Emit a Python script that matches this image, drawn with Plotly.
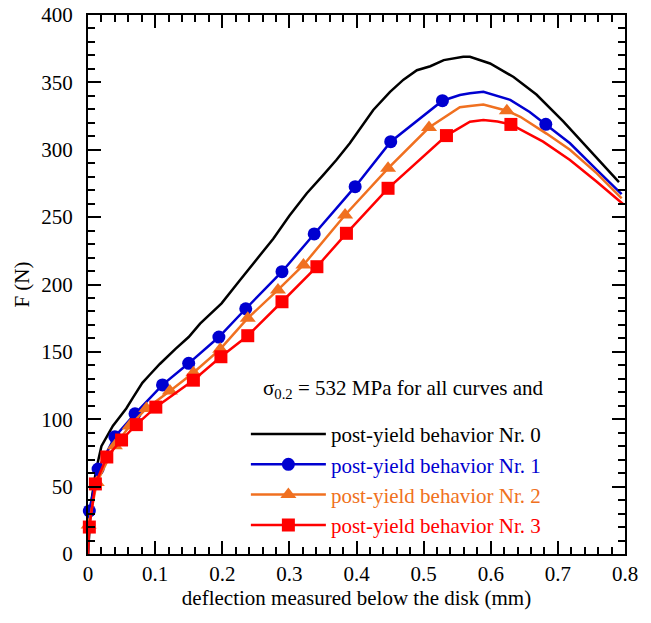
import plotly.graph_objects as go

# ---- post-yield behavior Nr. 0 (plain line) ----
defl_0 = [0, 0.0045, 0.012, 0.02, 0.037, 0.057, 0.067, 0.081, 0.092, 0.107, 0.13, 0.15,
          0.167, 0.199, 0.226, 0.237, 0.268, 0.276, 0.30, 0.326, 0.35, 0.37, 0.39, 0.425,
          0.45, 0.47, 0.49, 0.51, 0.53, 0.559, 0.569, 0.599, 0.634, 0.668, 0.708, 0.748, 0.791]
force_0 = [0, 37.6, 62.3, 80, 95, 108, 116, 127, 133, 141, 152, 161,
           171, 186, 203, 210, 229, 234, 251, 267.7, 281, 292.4, 304.8, 329.5,
           343, 352, 359, 362, 366.5, 369, 369, 364, 354, 341, 321, 299.5, 276]

# ---- post-yield behavior Nr. 1 ----
defl_1 = [0, 0.554, 0.569, 0.589, 0.629, 0.658, 0.718, 0.758, 0.795]
force_1 = [0, 340.6, 342, 343, 337, 328, 304.8, 285, 267]
mark_defl_1 = [0.002, 0.015, 0.040, 0.070, 0.111, 0.150, 0.195, 0.235, 0.289, 0.337,
               0.398, 0.451, 0.528, 0.682]
mark_force_1 = [32, 63, 87, 104, 125.5, 141.5, 161, 182, 209.5, 237.5,
                272.6, 306, 336.4, 318.9]

# ---- post-yield behavior Nr. 2 ----
defl_2 = [0, 0.554, 0.569, 0.589, 0.644, 0.683, 0.718, 0.758, 0.795]
force_2 = [0, 331.5, 332.5, 333.5, 324.5, 312, 300, 282.5, 264]
mark_defl_2 = [0.001, 0.013, 0.040, 0.062, 0.087, 0.122, 0.157, 0.197, 0.238, 0.283,
               0.321, 0.383, 0.447, 0.508, 0.624]
mark_force_2 = [21.5, 53, 80.4, 95, 108, 121, 134.5, 152, 175, 196,
                214.5, 251.6, 286.2, 316.5, 329]

# ---- post-yield behavior Nr. 3 ----
defl_3 = [0, 0.569, 0.589, 0.61, 0.678, 0.718, 0.758, 0.797]
force_3 = [0, 320.8, 322, 321, 306, 292.4, 276.3, 259.7]
mark_defl_3 = [0.002, 0.011, 0.028, 0.050, 0.072, 0.101, 0.157, 0.198, 0.238, 0.289,
               0.341, 0.385, 0.447, 0.534, 0.630]
mark_force_3 = [20, 52, 72, 84.6, 96, 109, 129, 146.4, 162, 187.2,
                213.2, 238, 271.4, 310.5, 318.8]

series = [
    dict(label="post-yield behavior Nr. 0", color="#000000", symbol=None, size=0,
         x=defl_0, y=force_0, mx=[], my=[]),
    dict(label="post-yield behavior Nr. 1", color="#0000D0", symbol="circle", size=13,
         x=defl_1, y=force_1, mx=mark_defl_1, my=mark_force_1),
    dict(label="post-yield behavior Nr. 2", color="#F07020", symbol="triangle-up", size=14,
         x=defl_2, y=force_2, mx=mark_defl_2, my=mark_force_2),
    dict(label="post-yield behavior Nr. 3", color="#FF0000", symbol="square", size=13,
         x=defl_3, y=force_3, mx=mark_defl_3, my=mark_force_3),
]

FONT = "Times New Roman, Liberation Serif, Times, serif"
FS = 21
LW = 2.5

fig = go.Figure()
for i, s in enumerate(series):
    pts = sorted(zip(list(s["x"]) + list(s["mx"]), list(s["y"]) + list(s["my"])))
    fig.add_trace(go.Scatter(
        x=[p[0] for p in pts], y=[p[1] for p in pts], mode="lines",
        line=dict(color=s["color"], width=LW), showlegend=False,
        cliponaxis=False, hoverinfo="skip"))
    if s["mx"]:
        fig.add_trace(go.Scatter(
            x=s["mx"], y=s["my"], mode="markers",
            marker=dict(symbol=s["symbol"], size=s["size"], color=s["color"]),
            showlegend=False, cliponaxis=False))
    # legend entry
    leg = dict(x=[None], y=[None],
               name=f"<span style='color:{s['color']}'>{s['label']}</span>",
               line=dict(color=s["color"], width=LW))
    if s["symbol"]:
        leg.update(mode="lines+markers",
                   marker=dict(symbol=s["symbol"], size=s["size"], color=s["color"]))
    else:
        leg.update(mode="lines")
    fig.add_trace(go.Scatter(**leg))

fig.add_annotation(
    text="σ<sub>0.2</sub> = 532 MPa for all curves and",
    xref="paper", yref="paper", x=0.853, y=0.306, xanchor="right", yanchor="middle",
    showarrow=False, font=dict(family=FONT, size=FS, color="black"))

axis_common = dict(
    ticks="inside", ticklen=13, tickwidth=1.5, tickcolor="black",
    showline=True, linewidth=2, linecolor="black", mirror="ticks",
    showgrid=False, zeroline=False,
    tickfont=dict(family=FONT, size=FS, color="black"),
)

fig.update_xaxes(
    range=[0, 0.8], tick0=0, dtick=0.1, ticklabelstandoff=0,
    minor=dict(dtick=0.02, ticks="inside", ticklen=7, tickwidth=1.5,
               tickcolor="black", showgrid=False),
    title=dict(text="deflection measured below the disk (mm)", standoff=0,
               font=dict(family=FONT, size=FS, color="black")),
    **axis_common)
fig.update_yaxes(
    range=[0, 400], tick0=0, dtick=50, ticklabelstandoff=9,
    minor=dict(dtick=10, ticks="inside", ticklen=7, tickwidth=1.5,
               tickcolor="black", showgrid=False),
    title=dict(text="F (N)", standoff=6,
               font=dict(family=FONT, size=FS, color="black")),
    **axis_common)

fig.update_layout(
    width=651, height=623,
    margin=dict(l=88, r=26, t=15, b=69, autoexpand=False),
    plot_bgcolor="white", paper_bgcolor="white",
    font=dict(family=FONT, size=FS, color="black"),
    showlegend=True,
    legend=dict(x=0.294, y=0.26, xanchor="left", yanchor="top",
                itemwidth=75, bgcolor="rgba(0,0,0,0)",
                font=dict(family=FONT, size=FS)),
)

fig.write_html("out.html")
